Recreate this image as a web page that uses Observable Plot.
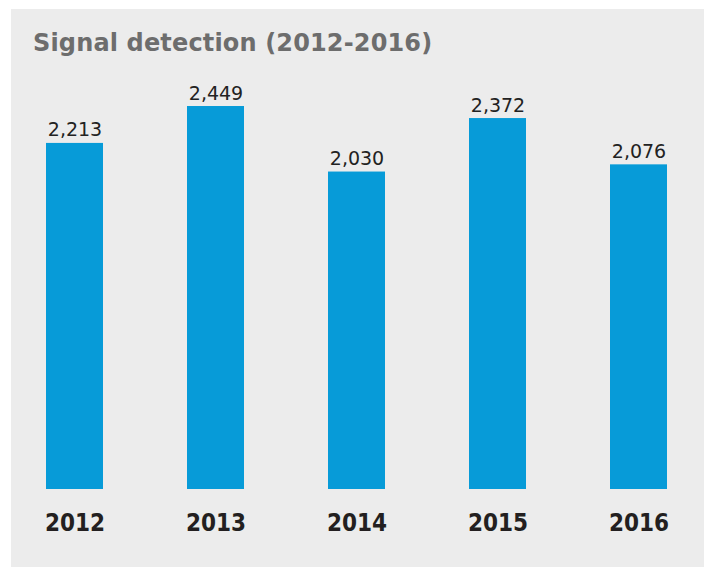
<!DOCTYPE html>
<html>
<head>
<meta charset="utf-8">
<script src="https://cdn.jsdelivr.net/npm/d3@7"></script>
<script src="https://cdn.jsdelivr.net/npm/@observablehq/plot@0.6"></script>
<style>
  html, body { margin: 0; padding: 0; background: #ffffff; width: 707px; height: 567px; overflow: hidden; }
  #panel { position: absolute; left: 11px; top: 9px; width: 693px; height: 558px; background: #ececec; }
  #title { position: absolute; left: 22px; top: 22px; line-height: 24px; font-family: "DejaVu Sans", Verdana, sans-serif; font-weight: bold; font-size: 24px; letter-spacing: 0.15px; color: #6d6d6d; white-space: nowrap; }
  #chart { position: absolute; left: 0; top: 51px; }
</style>
</head>
<body>
<div id="panel">
  <div id="title">Signal detection (2012-2016)</div>
  <div id="chart"></div>
</div>
<script>
const years = ["2012", "2013", "2014", "2015", "2016"];
const values = [2213, 2449, 2030, 2372, 2076];

const data = years.map((y, i) => ({year: y, value: values[i]}));

const chart = Plot.plot({
  width: 693,
  height: 507,
  marginLeft: 19,
  marginRight: 21,
  marginTop: 22.4,
  marginBottom: 78,
  style: {background: "transparent", overflow: "visible"},
  x: {domain: years, paddingInner: 0.595, paddingOuter: 0.1, label: null},
  y: {domain: [0, 2600], axis: null},
  marks: [
    Plot.barY(data, {x: "year", y: "value", fill: "#079bd8"}),
    Plot.text(data, {
      x: "year", y: "value",
      text: d => d3.format(",")(d.value),
      lineAnchor: "bottom", dy: -7,
      fontSize: 19, fill: "#222222",
      fontFamily: "DejaVu Sans, Verdana, sans-serif"
    }),
    Plot.axisX({
      tickSize: 0, tickPadding: 24, label: null,
      fontSize: 24, fontWeight: "bold", fill: "#231f20",
      fontFamily: "DejaVu Sans Condensed, DejaVu Sans, sans-serif"
    })
  ]
});
chart.querySelectorAll("g[aria-label='x-axis tick label'] text, g[aria-label='x-axis tick label']").forEach(e => {
  e.style.fontStretch = "condensed";
});
document.getElementById("chart").appendChild(chart);
</script>
</body>
</html>
